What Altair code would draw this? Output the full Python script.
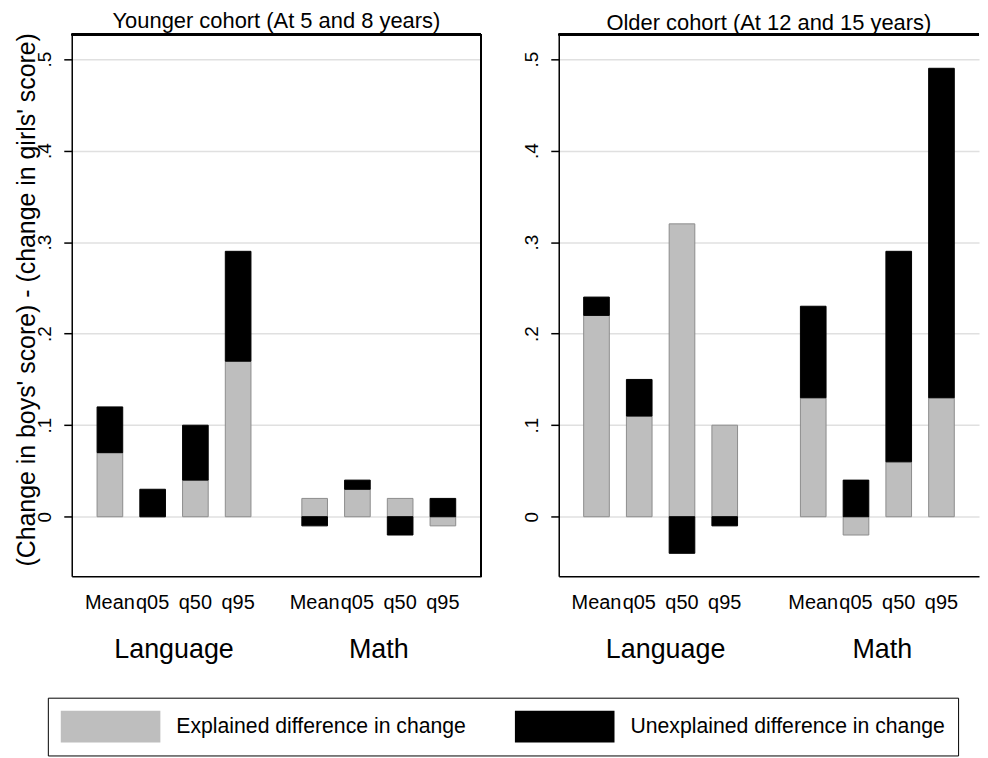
import altair as alt
import pandas as pd

FONT = "Liberation Sans, Arial, Helvetica, sans-serif"

stats = ["Mean", "q05", "q50", "q95"]
groups = ["Language", "Math"]
components = ["Explained difference in change", "Unexplained difference in change"]
panel_titles = ["Younger cohort (At 5 and 8 years)", "Older cohort (At 12 and 15 years)"]

# order: Language Mean,q05,q50,q95 then Math Mean,q05,q50,q95
young_explained = [0.07, 0.00, 0.04, 0.17, 0.02, 0.03, 0.02, -0.01]
young_unexplained = [0.05, 0.03, 0.06, 0.12, -0.01, 0.01, -0.02, 0.02]
old_explained = [0.22, 0.11, 0.32, 0.10, 0.13, -0.02, 0.06, 0.13]
old_unexplained = [0.02, 0.04, -0.04, -0.01, 0.10, 0.04, 0.23, 0.36]

y_ticks = [0, 0.1, 0.2, 0.3, 0.4, 0.5]
y_domain = [-0.065, 0.527]
y_title = "(Change in boys' score) - (change in girls' score)"

H = 544


def make_df(expl, unexpl):
    rows = []
    i = 0
    for g in groups:
        for s in stats:
            rows.append({"group": g, "stat": s, "component": components[0], "value": expl[i], "ord": 0})
            rows.append({"group": g, "stat": s, "component": components[1], "value": unexpl[i], "ord": 1})
            i += 1
    return pd.DataFrame(rows)


legend = alt.Legend(
    orient="none", legendX=-24, legendY=666, direction="horizontal", title=None,
    symbolType="M-1,-1H5.25V1H-1Z", symbolSize=1024, symbolStrokeWidth=0,
    labelFontSize=21.3, labelFont=FONT, labelColor="black", labelOffset=84,
    columnPadding=49, padding=13, strokeColor="black", labelLimit=500,
)


def panel(df, title, width, pad_outer, align, show_title):
    base = alt.Chart(df)
    x = alt.X(
        "group:N", sort=groups,
        scale=alt.Scale(paddingInner=0.165, paddingOuter=pad_outer, align=align),
        axis=alt.Axis(title=None, ticks=False, labelAngle=0, labelFontSize=27, labelFont=FONT,
                      labelColor="black", labelBaseline="alphabetic", labelPadding=82,
                      domainColor="black", domainWidth=1.5, grid=False),
    )
    xo = alt.XOffset("stat:N", sort=stats, scale=alt.Scale(paddingInner=0.4, paddingOuter=0.2))
    yaxis_kw = dict(
        values=y_ticks,
        labelExpr="datum.value == 0 ? '0' : replace(format(datum.value, '.1f'), '0.', '.')",
        labelAngle=270, labelAlign="center", labelBaseline="middle", labelFontSize=19,
        labelFont=FONT, labelColor="black", labelPadding=19, tickSize=8, tickColor="black",
        tickWidth=1.5, domainColor="black", domainWidth=1.5, grid=True, gridColor="#e0e0e0",
        gridWidth=1.5,
    )
    if show_title:
        yaxis = alt.Axis(
            title=y_title, titleFont=FONT, titleFontSize=25, titleFontWeight="normal",
            titleColor="black", titleAngle=270, titleAlign="center", titleBaseline="middle",
            titleX=-45, titleY=266, **yaxis_kw)
    else:
        yaxis = alt.Axis(title=None, **yaxis_kw)
    y = alt.Y("value:Q", stack="zero", scale=alt.Scale(domain=y_domain, nice=False, zero=False), axis=yaxis)
    bars = base.mark_bar(strokeWidth=1).encode(
        x=x, xOffset=xo, y=y,
        color=alt.Color("component:N", scale=alt.Scale(domain=components, range=["#bebebe", "#000000"]), legend=legend),
        stroke=alt.Stroke("component:N", scale=alt.Scale(domain=components, range=["#8c8c8c", "#000000"]), legend=None),
        order=alt.Order("ord:Q"),
    )
    labels = base.transform_filter(alt.datum.ord == 0).mark_text(
        baseline="alphabetic", align="center", fontSize=20, font=FONT, color="black"
    ).encode(x=x, xOffset=xo, y=alt.value(H + 33), text="stat:N")
    top = base.mark_rule(color="black", strokeWidth=1.5).encode(
        x=alt.value(0), x2=alt.value(width), y=alt.value(0))
    layers = [bars, labels, top]
    if show_title:
        right = base.mark_rule(color="black", strokeWidth=1.5).encode(
            x=alt.value(width), y=alt.value(0), y2=alt.value(H))
        layers.append(right)
    return alt.layer(*layers).properties(
        width=width, height=H,
        title=alt.TitleParams(title, font=FONT, fontSize=22, fontWeight="normal", color="black",
                              offset=-18, baseline="alphabetic", frame="group"),
    )


left = panel(make_df(young_explained, young_unexplained), panel_titles[0], 411, 0.082, 0.5, True)
right = panel(make_df(old_explained, old_unexplained), panel_titles[1], 422, 0.052, 0.727, False)

chart = alt.hconcat(left, right, spacing=78, bounds="flush").properties(
    padding={"left": 6, "top": 0, "right": 0, "bottom": 0}
).configure_view(stroke=None).configure_axis(labelFont=FONT)

chart.save("out.html", embed_options={"renderer": "svg", "actions": False})
